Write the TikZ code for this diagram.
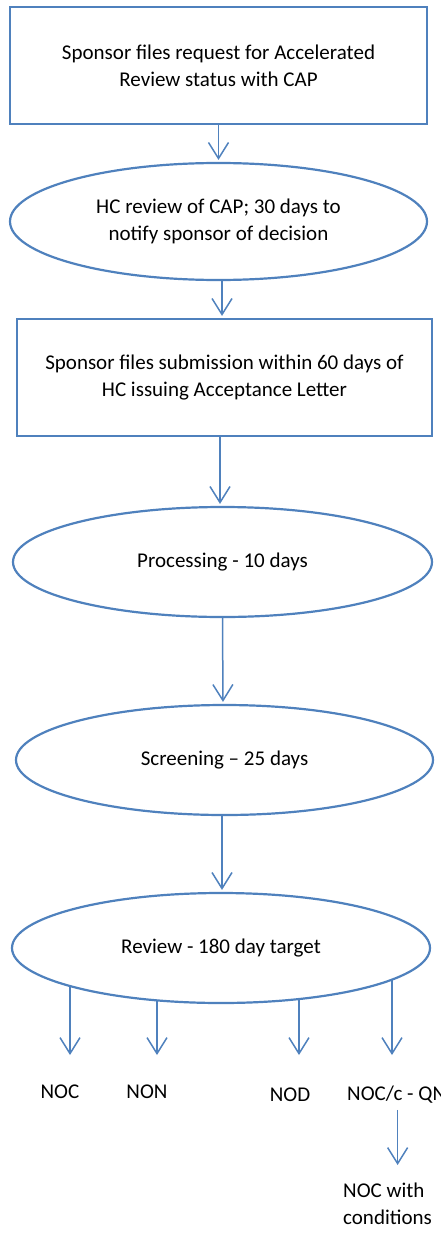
\documentclass[tikz,border=0pt]{standalone}
\usepackage{fontspec}
\setmainfont{Carlito}
\usetikzlibrary{shapes.geometric,arrows.meta}
\pgfdeclarelayer{background}
\pgfsetlayers{background,main}
\definecolor{office}{HTML}{4F81BD}
\tikzset{
  every node/.style={font=\fontsize{21}{27}\selectfont, text=black},
  boxnode/.style={draw=office, line width=2.2pt, rectangle, inner sep=0pt, align=center},
  ellnode/.style={draw=office, line width=2.2pt, ellipse, fill=white, inner sep=0pt, align=center},
  lbl/.style={inner sep=0pt},
  arr/.style={draw=office, line width=1.5pt, -{Straight Barb[length=16pt,width=20pt]}, shorten >=2pt}
}
\begin{document}
\begin{tikzpicture}[x=1pt,y=-1pt]
\path[use as bounding box] (0,0) rectangle (441,1236);
\clip (0,0) rectangle (441,1236);
\node[boxnode, minimum width=417pt, minimum height=117pt] (b1) at (218.5,65.5)
  {Sponsor files request for Accelerated\\Review status with CAP};
\node[ellnode, minimum width=417pt, minimum height=117pt] (e2) at (218.5,221.5)
  {HC review of CAP; 30 days to\\notify sponsor of decision};
\node[boxnode, minimum width=415pt, minimum height=117pt] (b3) at (224.5,377.5)
  {Sponsor files submission within 60 days of\\HC issuing Acceptance Letter};
\node[ellnode, minimum width=419pt, minimum height=110pt] (e4) at (222.5,562)
  {Processing - 10 days};
\node[ellnode, minimum width=417pt, minimum height=110pt] (e5) at (224.5,760)
  {Screening -- 25 days};
\node[ellnode, minimum width=418pt, minimum height=110pt] (e6) at (221,948)
  {Review - 180 day target};

\node[lbl] (noc) at (60,1092) {NOC};
\node[lbl] (non) at (147,1092) {NON};
\node[lbl] (nod) at (290,1095) {NOD};
\node[lbl, anchor=west] (qn) at (347,1095) {NOC/c - QN};
\node[lbl, anchor=north west, align=left] (cond) at (343,1183) {NOC with\\conditions};

\coordinate (t1) at (70,1057);
\coordinate (t2) at (157,1057);
\coordinate (t3) at (299,1057);
\coordinate (t4) at (392,1057);

\draw[arr] (b1.south) -- (e2.north);
\draw[arr] ([xshift=3.5pt]e2.south) -- ([xshift=-2.5pt]b3.north);
\draw[arr] ([xshift=-4.5pt]b3.south) -- ([xshift=-2.5pt]e4.north);
\draw[arr] (e4.south) -- ([xshift=-1.5pt]e5.north);
\draw[arr] ([xshift=-2.5pt]e5.south) -- ([xshift=1pt]e6.north);
\begin{pgfonlayer}{background}
\foreach \t in {t1,t2,t3,t4}{
  \draw[arr] (\t |- e6.center) -- (\t);
}
\end{pgfonlayer}
\draw[arr, shorten <=6pt, shorten >=18pt] ([xshift=1pt]qn.south) -- ([xshift=1pt]qn.south |- cond.north);
\end{tikzpicture}
\end{document}
